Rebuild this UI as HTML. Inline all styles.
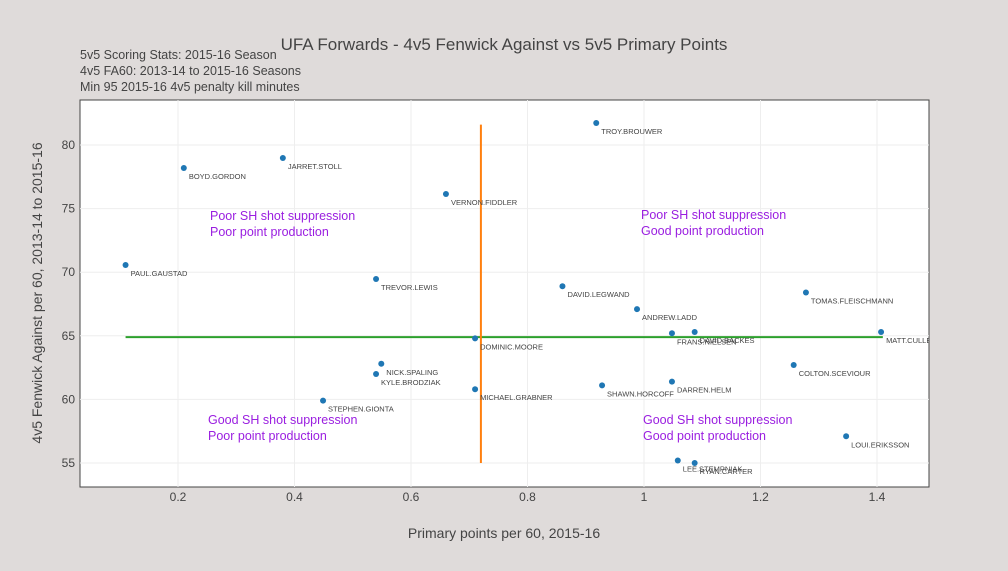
<!DOCTYPE html>
<html><head><meta charset="utf-8"><style>
body{margin:0;background:#dfdbda;font-family:"Liberation Sans",sans-serif;overflow:hidden;}
svg text{font-family:"Liberation Sans",sans-serif;}
</style></head><body>
<svg id="chart" width="1008" height="566">
<defs><clipPath id="plotclip"><rect x="80" y="100" width="849" height="387"/></clipPath></defs>
<rect width="1008" height="566" fill="#dfdbda"/>
<rect x="80" y="100" width="849" height="387" fill="#fff" stroke="#444" stroke-width="1"/>
<g id="grid"></g>
<g id="marks" clip-path="url(#plotclip)"></g>
<text x="504" y="50" text-anchor="middle" font-size="17" fill="#444">UFA Forwards - 4v5 Fenwick Against vs 5v5 Primary Points</text>
<text x="80" y="59" font-size="12.5" fill="#444">5v5 Scoring Stats: 2015-16 Season</text>
<text x="80" y="75" font-size="12.5" fill="#444">4v5 FA60: 2013-14 to 2015-16 Seasons</text>
<text x="80" y="91" font-size="12.5" fill="#444">Min 95 2015-16 4v5 penalty kill minutes</text>
<text x="504" y="538" text-anchor="middle" font-size="14" fill="#444">Primary points per 60, 2015-16</text>
<text transform="translate(42,293) rotate(-90)" text-anchor="middle" font-size="14" fill="#444">4v5 Fenwick Against per 60, 2013-14 to 2015-16</text>
<g font-size="12.5" fill="#9a1ee0">
<text x="210" y="220">Poor SH shot suppression</text>
<text x="210" y="236">Poor point production</text>
<text x="641" y="219">Poor SH shot suppression</text>
<text x="641" y="235">Good point production</text>
<text x="208" y="424">Good SH shot suppression</text>
<text x="208" y="440">Poor point production</text>
<text x="643" y="424">Good SH shot suppression</text>
<text x="643" y="440">Good point production</text>
</g>
</svg>
<script>
const names=["TROY.BROUWER","BOYD.GORDON","JARRET.STOLL","VERNON.FIDDLER","PAUL.GAUSTAD","TREVOR.LEWIS","DAVID.LEGWAND","TOMAS.FLEISCHMANN","ANDREW.LADD","FRANS.NIELSEN","DAVID.BACKES","MATT.CULLEN","DOMINIC.MOORE","NICK.SPALING","KYLE.BRODZIAK","COLTON.SCEVIOUR","DARREN.HELM","SHAWN.HORCOFF","MICHAEL.GRABNER","STEPHEN.GIONTA","LOUI.ERIKSSON","LEE.STEMPNIAK","RYAN.CARTER"];
const points=[0.918,0.21,0.38,0.66,0.11,0.54,0.86,1.278,0.988,1.048,1.087,1.407,0.71,0.549,0.54,1.257,1.048,0.928,0.71,0.449,1.347,1.058,1.087];
const fenwick=[81.73,78.19,78.98,76.15,70.57,69.47,68.9,68.4,67.1,65.2,65.3,65.3,64.8,62.8,62.0,62.7,61.4,61.1,60.8,59.9,57.1,55.2,55.0];
const xTicks=[0.2,0.4,0.6,0.8,1,1.2,1.4];
const xTickLabels=["0.2","0.4","0.6","0.8","1","1.2","1.4"];
const yTicks=[55,60,65,70,75,80];
const avgPoints=0.72, avgFenwick=64.9;
const vLineRange=[55,81.6], hLineRange=[0.11,1.41];
const X=v=>61.5+v*582.5;
const Y=v=>145-(v-80)*12.72;
const NS="http://www.w3.org/2000/svg";
function mk(tag,attrs,parent){const e=document.createElementNS(NS,tag);for(const k in attrs)e.setAttribute(k,attrs[k]);parent.appendChild(e);return e;}
const grid=document.getElementById('grid'),marks=document.getElementById('marks');
xTicks.forEach((t,i)=>{
 const l=mk('line',{x1:X(t),x2:X(t),y1:100,y2:487,stroke:'#eee'},grid);
 
 
 const tx=mk('text',{x:X(t),y:501,'text-anchor':'middle','font-size':12,fill:'#444'},grid);
 tx.textContent=xTickLabels[i];
 
 
});
yTicks.forEach(t=>{
 const l=mk('line',{x1:80,x2:929,y1:Y(t),y2:Y(t),stroke:'#eee'},grid);
 
 
 const tx=mk('text',{x:75,y:Y(t)+4,'text-anchor':'end','font-size':12,fill:'#444'},grid);
 tx.textContent=t;
 
 
});
const hl=mk('line',{x1:X(hLineRange[0]),x2:X(hLineRange[1]),y1:Y(avgFenwick),y2:Y(avgFenwick),stroke:'#2ca02c','stroke-width':2},marks);


const vl=mk('line',{x1:X(avgPoints),x2:X(avgPoints),y1:Y(vLineRange[0]),y2:Y(vLineRange[1]),stroke:'#ff7f0e','stroke-width':2},marks);


names.forEach((n,i)=>{
 const c=mk('circle',{cx:X(points[i]),cy:Y(fenwick[i]),r:3,fill:'#1f77b4'},marks);
 
 
 const t=mk('text',{x:X(points[i])+5,y:Y(fenwick[i])+11,'font-size':7.5,fill:'#444'},marks);
 t.textContent=n;
 
 
});
</script>
</body></html>
